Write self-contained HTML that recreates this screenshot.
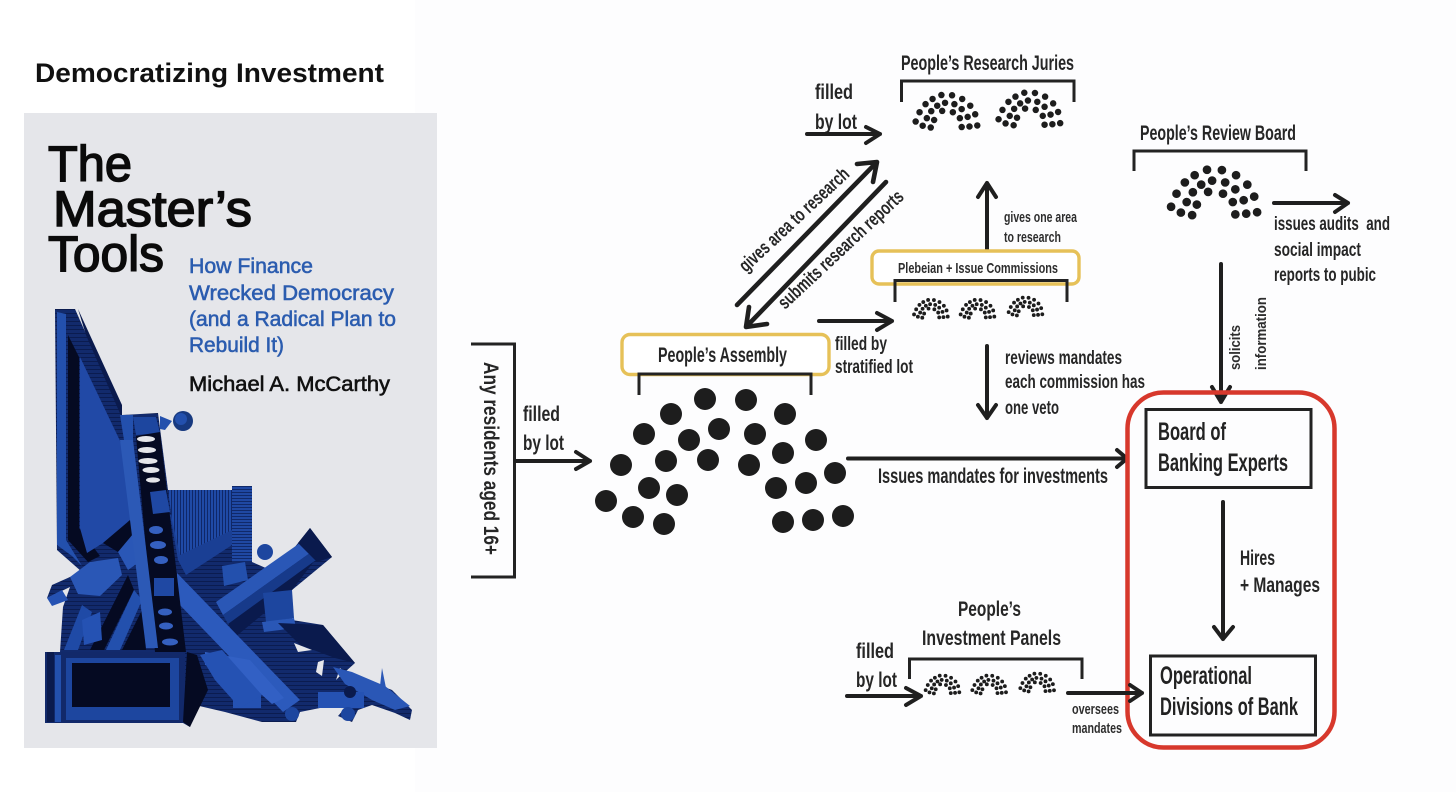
<!DOCTYPE html>
<html lang="en"><head><meta charset="utf-8"><title>Democratizing Investment</title>
<style>
html,body{margin:0;padding:0;background:#fff;width:1456px;height:792px;overflow:hidden}
svg{display:block}
text{font-family:"Liberation Sans",sans-serif}
.t{font-size:21px;font-weight:700;fill:#262626}
.b{font-size:25px;font-weight:700;fill:#222}
.s{font-size:15px;font-weight:700;fill:#2e2e2e}
.l{fill:none;stroke:#232323;stroke-width:3;stroke-linecap:butt}
.a{fill:none;stroke:#1f1f1f;stroke-width:4;stroke-linecap:round;stroke-linejoin:round}
.y{fill:#fff;stroke:#e6c158;stroke-width:3.4}
.c{font-size:50px;fill:#0b0b0b;stroke:#0b0b0b;stroke-width:1.5}
.bl{font-size:21px;fill:#2b5caf;stroke:#2b5caf;stroke-width:.55}
</style></head><body>
<svg width="1456" height="792" viewBox="0 0 1456 792" xmlns="http://www.w3.org/2000/svg">
<defs>
<g id="h" fill="#1d1d1d">
<circle cx="705" cy="399" r="11"/><circle cx="746" cy="400" r="11"/><circle cx="671" cy="414" r="11"/><circle cx="785" cy="414" r="11"/><circle cx="644" cy="434" r="11"/><circle cx="689" cy="440" r="11"/><circle cx="719" cy="429" r="11"/><circle cx="755" cy="434" r="11"/><circle cx="816" cy="440" r="11"/><circle cx="783" cy="453" r="11"/><circle cx="666" cy="461" r="11"/><circle cx="708" cy="460" r="11"/><circle cx="749" cy="465" r="11"/><circle cx="621" cy="465" r="11"/><circle cx="835" cy="473" r="11"/><circle cx="806" cy="483" r="11"/><circle cx="776" cy="488" r="11"/><circle cx="649" cy="488" r="11"/><circle cx="677" cy="495" r="11"/><circle cx="606" cy="501" r="11"/><circle cx="633" cy="517" r="11"/><circle cx="664" cy="524" r="11"/><circle cx="783" cy="522" r="11"/><circle cx="813" cy="520" r="11"/><circle cx="843" cy="516" r="11"/>
</g>
<pattern id="st" width="3" height="3" patternUnits="userSpaceOnUse"><rect width="3" height="3" fill="#1f48a3"/><rect width="3" height="1" fill="#10296a"/></pattern>
<pattern id="sv" width="3" height="3" patternUnits="userSpaceOnUse"><rect width="3" height="3" fill="#1f4aa6"/><rect width="1" height="3" fill="#0f2768"/></pattern>
<pattern id="dk" width="4" height="4" patternUnits="userSpaceOnUse"><rect width="4" height="4" fill="#122a6c"/><rect y="1" width="4" height="1" fill="#0b1c50"/></pattern>
</defs>
<rect width="1456" height="792" fill="#fff"/>
<rect x="415" width="1041" height="792" fill="#fdfdfe"/>

<text x="35" y="82" font-size="27" font-weight="700" fill="#111" textLength="349" lengthAdjust="spacingAndGlyphs">Democratizing Investment</text>

<!-- book cover -->
<rect x="24" y="113" width="413" height="635" fill="#e5e6ea"/>
<text class="c" x="48" y="181" textLength="84" lengthAdjust="spacingAndGlyphs">The</text>
<text class="c" x="53" y="226" textLength="199" lengthAdjust="spacingAndGlyphs">Master’s</text>
<text class="c" x="48" y="271" textLength="116" lengthAdjust="spacingAndGlyphs">Tools</text>
<text class="bl" x="189" y="273" textLength="124" lengthAdjust="spacingAndGlyphs">How Finance</text>
<text class="bl" x="189" y="300" textLength="205" lengthAdjust="spacingAndGlyphs">Wrecked Democracy</text>
<text class="bl" x="189" y="326" textLength="207" lengthAdjust="spacingAndGlyphs">(and a Radical Plan to</text>
<text class="bl" x="189" y="352" textLength="95" lengthAdjust="spacingAndGlyphs">Rebuild It)</text>
<text x="189" y="391" font-size="21" fill="#111" stroke="#111" stroke-width=".6" textLength="201" lengthAdjust="spacingAndGlyphs">Michael A. McCarthy</text>

<!-- artwork -->
<polygon fill="url(#dk)" points="55,309 75,309 122,415 158,413 168,490 232,490 232,486 252,486 252,562 275,572 310,528 332,557 292,590 292,620 323,625 355,663 345,672 392,690 412,710 410,720 395,713 372,705 358,710 352,722 338,716 345,708 320,708 300,712 296,722 262,722 225,712 195,705 190,727 183,723 45,723 45,652 60,652 63,607 70,587 47,598 52,585 70,577 82,572 57,550"/>
<polygon fill="#2350ad" points="57,312 66,314 66,540 82,566 72,556 57,545"/>
<polygon fill="#050a22" points="68,335 79,357 79,528 100,556 88,562 68,540"/>
<polygon fill="#0a1a4d" points="78,309 122,405 122,418 86,335"/>
<polygon fill="#2149a6" points="80,357 122,445 136,520 128,522 103,543 87,553 80,528"/>
<polygon fill="#2350ad" points="120,415 133,415 133,440 124,440"/>
<polygon fill="#1d469f" points="133,417 156,417 160,433 136,435"/>
<polygon fill="#2350ad" points="160,416 172,421 165,430 160,429"/>
<circle cx="183" cy="421" r="10" fill="#17397f"/>
<circle cx="181" cy="419" r="6" fill="#2350ad"/>
<polygon fill="#1a3f94" points="170,515 232,500 232,545 186,575 178,560"/>
<polygon fill="url(#sv)" points="168,490 232,490 232,530 180,555 172,520"/>
<rect x="232" y="486" width="20" height="76" fill="url(#st)"/>
<polygon fill="#2350ad" points="222,566 245,562 248,580 224,586"/>
<circle cx="265" cy="552" r="8" fill="#1d469f"/>
<!-- right column -->
<polygon fill="#0a1a4d" points="315,560 228,622 234,638 292,590"/>
<polygon fill="#2a57b6" points="300,543 310,553 223,615 216,602"/>
<polygon fill="#173a8a" points="310,553 316,560 228,624 223,615"/>
<polygon fill="#0a1a4d" points="310,528 332,557 317,562 298,543"/>
<polygon fill="#1d469f" points="263,593 292,590 294,618 266,622"/>
<polygon fill="#2a57b6" points="262,622 294,618 296,628 264,632"/>
<!-- pediment -->
<polygon fill="#0a1a4d" points="278,623 323,625 355,663 335,658 300,645"/>
<polygon fill="#e5e6ea" points="294,643 312,650 298,652"/>
<polygon fill="#e5e6ea" points="318,662 324,660 322,676 316,672"/>
<polygon fill="#e5e6ea" points="340,668 344,672 336,680"/>
<polygon fill="#e5e6ea" points="322,695 340,700 320,704"/>
<!-- figure + bar -->
<polygon fill="#2a57b6" points="333,667 352,672 385,686 410,706 395,710 372,700 345,684"/>
<polygon fill="#2a57b6" points="382,668 386,688 380,686"/>
<rect x="233" y="688" width="28" height="20" fill="#2552b3"/>
<rect x="318" y="692" width="46" height="16" fill="#2552b3"/>
<circle cx="292" cy="714" r="7" fill="#1d469f"/><circle cx="348" cy="714" r="7" fill="#1d469f"/>
<circle cx="350" cy="692" r="6" fill="#0a1a4d"/>
<!-- left rubble -->
<polygon fill="#2a57b6" points="70,577 90,562 118,558 122,575 100,596 78,594"/>
<polygon fill="#2552b3" points="47,598 62,590 68,600 52,606"/>
<polygon fill="#1f4aa6" points="64,650 82,605 92,612 78,650"/>
<polygon fill="#050a22" points="90,650 128,575 134,590 104,650"/>
<polygon fill="#2350ad" points="106,650 134,590 142,600 120,650"/>
<polygon fill="#050a22" points="122,650 142,610 146,650"/>
<polygon fill="#2552b3" points="82,620 100,612 102,640 84,645"/>
<polygon fill="#050a22" points="103,543 130,520 138,528 118,552"/>
<polygon fill="#2a57b6" points="118,552 138,528 142,560 128,570"/>
<!-- bright beam -->
<polygon fill="#2c5abc" points="177,573 300,700 283,712 177,602"/>
<polygon fill="#3260c4" points="205,652 250,660 284,698 272,704 240,675 205,665"/>
<!-- ladder -->
<polygon fill="#050a22" points="136,436 160,432 186,652 155,652"/>
<polygon fill="#2c59b6" points="120,440 133,440 158,648 146,648"/>
<ellipse cx="146" cy="439" rx="9" ry="3" fill="#e5e6ea"/><ellipse cx="147" cy="450" rx="9" ry="3" fill="#e5e6ea"/><ellipse cx="148" cy="461" rx="9.500" ry="3" fill="#e5e6ea"/><ellipse cx="151" cy="470" rx="8.500" ry="3" fill="#e5e6ea"/><ellipse cx="153" cy="480" rx="7" ry="2.600" fill="#e5e6ea"/>
<polygon fill="#1f48a3" points="150,492 166,490 170,512 153,514"/>
<ellipse cx="156" cy="530" rx="7" ry="4" fill="#3560c0"/><ellipse cx="158" cy="545" rx="8" ry="4" fill="#3560c0"/><ellipse cx="161" cy="560" rx="7" ry="4" fill="#3560c0"/>
<rect x="154" y="578" width="20" height="18" fill="#1f48a3"/>
<ellipse cx="165" cy="612" rx="7" ry="3.500" fill="#3560c0"/><ellipse cx="166" cy="626" rx="7" ry="3.500" fill="#3560c0"/><ellipse cx="170" cy="642" rx="8" ry="3.500" fill="#3560c0"/>
<!-- base -->
<rect x="45" y="652" width="140" height="71" fill="#12296a"/>
<rect x="47" y="652" width="7" height="70" fill="#0a1a4d"/>
<rect x="55" y="655" width="6" height="67" fill="#2350ad"/>
<rect x="66" y="658" width="113" height="62" fill="#1d469f"/>
<rect x="72" y="663" width="98" height="44" fill="#050a22"/>
<polygon fill="#050a22" points="187,652 197,655 208,690 190,727 183,722"/>
<polygon fill="#2552b3" points="200,655 222,650 262,695 240,708 215,680"/>

<!-- Any residents -->
<polyline class="l" points="471,344 514.500,344 514.500,577 471,577"/>
<text class="t" transform="translate(484 362) rotate(90)" textLength="193" lengthAdjust="spacingAndGlyphs">Any residents aged 16+</text>
<text class="t" x="523" y="421" textLength="37" lengthAdjust="spacingAndGlyphs">filled</text>
<text class="t" x="523" y="450" textLength="41" lengthAdjust="spacingAndGlyphs">by lot</text>
<path class="a" d="M516 461H590M576 452L590 461L576 469"/>

<!-- People's Assembly -->
<rect class="y" x="622" y="334.500" width="207" height="40" rx="8"/>
<text class="t" x="658" y="362" textLength="129" lengthAdjust="spacingAndGlyphs">People’s Assembly</text>
<polyline class="l" points="639,395 639,374 811,374 811,395"/>
<use href="#h"/>
<path class="a" d="M848 458.500H1127M1117 450L1127 458.500L1117 467"/>
<text class="t" x="878" y="483" textLength="230" lengthAdjust="spacingAndGlyphs">Issues mandates for investments</text>

<!-- Diagonal arrows -->
<path class="a" style="stroke-width:4.600" d="M737 305L877 162M857 164L877 162L873 182"/>
<path class="a" style="stroke-width:4.600" d="M886 182L746 327M749 307L746 327L767 324"/>
<text class="t" transform="translate(746 273) rotate(-43)" textLength="143" lengthAdjust="spacingAndGlyphs" style="font-size:19px">gives area to research</text>
<text class="t" transform="translate(785 310) rotate(-43)" textLength="164" lengthAdjust="spacingAndGlyphs" style="font-size:19px">submits research reports</text>

<!-- Research Juries -->
<text class="t" x="901" y="70" textLength="173" lengthAdjust="spacingAndGlyphs">People’s Research Juries</text>
<polyline class="l" points="901.500,102 901.500,81 1074,81 1074,102"/>
<use href="#h" transform="translate(758.100 -8.700) scale(.26)" stroke="#1d1d1d" stroke-width="3"/>
<use href="#h" transform="translate(841 -11) scale(.26)" stroke="#1d1d1d" stroke-width="3"/>
<text class="t" x="815" y="99" textLength="38" lengthAdjust="spacingAndGlyphs">filled</text>
<text class="t" x="815" y="129" textLength="42" lengthAdjust="spacingAndGlyphs">by lot</text>
<path class="a" d="M807 134H880M866 127L880 134L866 143"/>

<!-- Commissions -->
<path class="a" d="M987 253V183M978 197L987 183L996 197"/>
<text class="s" x="1004" y="222" textLength="73" lengthAdjust="spacingAndGlyphs">gives one area</text>
<text class="s" x="1004" y="242" textLength="57" lengthAdjust="spacingAndGlyphs">to research</text>
<rect class="y" x="872" y="251" width="207" height="33" rx="7"/>
<text class="s" x="898" y="273" textLength="160" lengthAdjust="spacingAndGlyphs">Plebeian + Issue Commissions</text>
<polyline class="l" points="895,302 895,280.500 1067,280.500 1067,302"/>
<use href="#h" transform="translate(828 243.300) scale(.142)" stroke="#1d1d1d" stroke-width="5"/>
<use href="#h" transform="translate(874.600 243.300) scale(.142)" stroke="#1d1d1d" stroke-width="5"/>
<use href="#h" transform="translate(922.600 241) scale(.142)" stroke="#1d1d1d" stroke-width="5"/>
<path class="a" d="M819 321H892M877 313L892 321L877 330"/>
<text class="t" x="835" y="350" textLength="52" lengthAdjust="spacingAndGlyphs" style="font-size:19px">filled by</text>
<text class="t" x="835" y="373" textLength="78" lengthAdjust="spacingAndGlyphs" style="font-size:19px">stratified lot</text>
<path class="a" d="M987 346V418M978 405L987 418L996 405"/>
<text class="t" x="1005" y="364" textLength="117" lengthAdjust="spacingAndGlyphs" style="font-size:19px">reviews mandates</text>
<text class="t" x="1005" y="388" textLength="140" lengthAdjust="spacingAndGlyphs" style="font-size:19px">each commission has</text>
<text class="t" x="1005" y="414" textLength="54" lengthAdjust="spacingAndGlyphs" style="font-size:19px">one veto</text>

<!-- Review Board -->
<text class="t" x="1140" y="140" textLength="156" lengthAdjust="spacingAndGlyphs">People’s Review Board</text>
<polyline class="l" points="1134,171 1134,151 1306,151 1306,171"/>
<use href="#h" transform="translate(951.100 24.900) scale(.363)" stroke="#1d1d1d" stroke-width="2"/>
<path class="a" d="M1274 203H1348M1335 195L1348 203L1335 212"/>
<text class="t" x="1274" y="230" textLength="116" lengthAdjust="spacingAndGlyphs" style="font-size:19px" xml:space="preserve">issues audits  and</text>
<text class="t" x="1274" y="256" textLength="87" lengthAdjust="spacingAndGlyphs" style="font-size:19px">social impact</text>
<text class="t" x="1274" y="281" textLength="102" lengthAdjust="spacingAndGlyphs" style="font-size:19px">reports to pubic</text>
<path class="a" d="M1221 264V402M1212 387L1221 402L1230 387"/>
<text class="s" transform="translate(1240 370) rotate(-90)" textLength="45" lengthAdjust="spacingAndGlyphs">solicits</text>
<text class="s" transform="translate(1266 370) rotate(-90)" textLength="73" lengthAdjust="spacingAndGlyphs">information</text>

<!-- Red container -->
<rect x="1127.500" y="392.500" width="207" height="355" rx="36" fill="none" stroke="#d7382c" stroke-width="4.500"/>
<rect x="1146" y="409.500" width="165" height="78" fill="none" stroke="#222" stroke-width="3"/>
<text class="b" x="1158" y="440" textLength="68" lengthAdjust="spacingAndGlyphs">Board of</text>
<text class="b" x="1158" y="471" textLength="130" lengthAdjust="spacingAndGlyphs">Banking Experts</text>
<path class="a" d="M1223 502V639M1214 627L1223 639L1233 627"/>
<text class="t" x="1240" y="565" textLength="35" lengthAdjust="spacingAndGlyphs">Hires</text>
<text class="t" x="1240" y="592" textLength="80" lengthAdjust="spacingAndGlyphs">+ Manages</text>
<rect x="1150.500" y="656" width="165" height="79" fill="none" stroke="#222" stroke-width="3"/>
<text class="b" x="1160" y="684" textLength="92" lengthAdjust="spacingAndGlyphs">Operational</text>
<text class="b" x="1160" y="715" textLength="138" lengthAdjust="spacingAndGlyphs">Divisions of Bank</text>

<!-- Investment Panels -->
<text class="t" x="958" y="616" textLength="63" lengthAdjust="spacingAndGlyphs">People’s</text>
<text class="t" x="922" y="645" textLength="139" lengthAdjust="spacingAndGlyphs">Investment Panels</text>
<polyline class="l" points="909.500,679 909.500,659 1082,659 1082,679"/>
<use href="#h" transform="translate(839.600 619) scale(.142)" stroke="#1d1d1d" stroke-width="5"/>
<use href="#h" transform="translate(886.300 619) scale(.142)" stroke="#1d1d1d" stroke-width="5"/>
<use href="#h" transform="translate(934.300 617) scale(.142)" stroke="#1d1d1d" stroke-width="5"/>
<text class="t" x="856" y="658" textLength="38" lengthAdjust="spacingAndGlyphs">filled</text>
<text class="t" x="856" y="687" textLength="41" lengthAdjust="spacingAndGlyphs">by lot</text>
<path class="a" d="M847 696H921M906 688L921 696L906 705"/>
<path class="a" d="M1068 693H1142M1130 685L1142 693L1130 701"/>
<text class="s" x="1072" y="714" textLength="47" lengthAdjust="spacingAndGlyphs">oversees</text>
<text class="s" x="1072" y="733" textLength="50" lengthAdjust="spacingAndGlyphs">mandates</text>
</svg>
</body></html>
